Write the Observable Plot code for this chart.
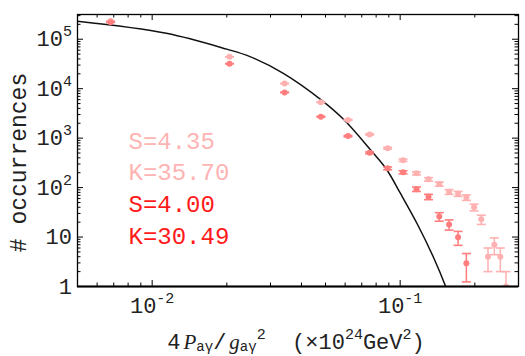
<!DOCTYPE html>
<html><head><meta charset="utf-8">
<script src="https://cdn.jsdelivr.net/npm/d3@7"></script>
<script src="https://cdn.jsdelivr.net/npm/@observablehq/plot@0.6"></script>
<style>body{margin:0;background:#fff}</style>
</head><body><div id="chart"></div>
<script>
// ---- data ----
const binX = [0.0068,0.0205,0.0342,0.0479,0.0616,0.0753,0.0890,0.1027,0.1164,0.1301,0.1438,0.1575,0.1712,0.1849,0.1986,0.2123,0.2260,0.2397,0.2534,0.2671];
const countsS435 = [2.35e5,4.4e4,1.27e4,5.3e3,2.34e3,1190,625,358,194,147,118,82,75,63,40,22.8,4.0,7.0,4.0,1.0];
const errS435    = [485,210,113,73,48,34,25,19,14,12,11,9,8.7,8,6.3,4.8,2,2.6,2,1];
const countsS400 = [2.2e5,3.2e4,8.4e3,2.72e3,1.1e3,505,245,204,93,65,26,18,9.9,2.94];
const errS400    = [470,179,92,52,33,22,16,14,9.6,8,5.1,4.2,3.1,1.7];
const curveX = [0.005,0.0114,0.0200,0.0248,0.0338,0.0483,0.0591,0.0757,0.0883,0.1000,0.1168,0.1362,0.1535,0.1600];
const curveY = [2.31e5,1.32e5,6.3e4,4.45e4,2.04e4,5.8e3,2.4e3,590,230,78,19,3.9,0.92,0.5];
const annoLight = ["S=4.35","K=35.70"];
const annoRed = ["S=4.00","K=30.49"];
const xMajor = [0.01,0.1];
const xMajorLabels = ["10^{-2}","10^{-1}"];
const xMinor = [0.006,0.007,0.008,0.009,0.02,0.03,0.04,0.05,0.06,0.07,0.08,0.09,0.2];
const yMajor = [1,10,100,1e3,1e4,1e5];
const yMajorLabels = ["1","10","10^{2}","10^{3}","10^{4}","10^{5}"];
const yMinor = [];
for (const p of [1,10,100,1e3,1e4,1e5]) for (const m of [2,3,4,5,6,7,8,9]) if (m*p < 3.16e5) yMinor.push(m*p);
const xLabel = "4*{P}_{aγ}/*{g}_{aγ}^{2}  (×10^{24}GeV^{2})";
const yLabel = "# occurrences";

// ---- build ----
const light = "#ffb0b0", red = "#ff7d7d";
const lightText = "#ffb4b4", redText = "#ff1a1a";
const mono = "Liberation Mono";
const ML = 77, MR = 7, MT = 14, MB = 70, W = 525, H = 356;
const FW = W - ML - MR, FH = H - MT - MB;

const tbl = (xs, ys, es) => ys.map((y, i) => ({x: xs[i], y, lo: Math.max(y - es[i], 0.1), hi: y + es[i]}));
const s435 = tbl(binX, countsS435, errS435);
const s400 = tbl(binX, countsS400, errS400);
const curve = curveX.map((x, i) => ({x, y: curveY[i]}));
const cap = {draw(ctx) { ctx.moveTo(-4.5, 0); ctx.lineTo(4.5, 0); }};

const seriesMarks = (data, color) => [
  Plot.ruleX(data, {x: "x", y1: "lo", y2: "hi", stroke: color, strokeWidth: 1.5, clip: true}),
  Plot.dot(data, {x: "x", y: "lo", symbol: cap, stroke: color, fill: "none", strokeWidth: 1.6, clip: true}),
  Plot.dot(data, {x: "x", y: "hi", symbol: cap, stroke: color, fill: "none", strokeWidth: 1.6, clip: true}),
  Plot.dot(data, {x: "x", y: "y", r: 3, fill: color, stroke: "none", clip: true})
];

const baselines = [148, 179.5, 211.5, 243];
const annos = [...annoLight.map(t => [t, lightText]), ...annoRed.map(t => [t, redText])];

const chart = Plot.plot({
  width: W, height: H,
  marginLeft: ML, marginRight: MR, marginTop: MT, marginBottom: MB,
  style: {fontFamily: mono, background: "white"},
  x: {type: "log", domain: [0.005, 0.3], axis: null},
  y: {type: "log", domain: [1, 316228], axis: null},
  marks: [
    Plot.line(curve, {x: "x", y: "y", stroke: "#111", strokeWidth: 1.5, curve: "catmull-rom", clip: true}),
    ...seriesMarks(s435, light),
    ...seriesMarks(s400, red),
    // ticks
    Plot.tickX(xMajor, {x: d => d, insetTop: FH - 6, stroke: "black", strokeWidth: 1}),
    Plot.tickX(xMinor, {x: d => d, insetTop: FH - 3.5, stroke: "black", strokeWidth: 1}),
    Plot.tickX(xMajor, {x: d => d, insetBottom: FH - 6, stroke: "black", strokeWidth: 1}),
    Plot.tickX(xMinor, {x: d => d, insetBottom: FH - 3.5, stroke: "black", strokeWidth: 1}),
    Plot.tickY(yMajor, {y: d => d, insetRight: FW - 6, stroke: "black", strokeWidth: 1}),
    Plot.tickY(yMinor, {y: d => d, insetRight: FW - 3.5, stroke: "black", strokeWidth: 1}),
    Plot.tickY(yMajor, {y: d => d, insetLeft: FW - 6, stroke: "black", strokeWidth: 1}),
    Plot.tickY(yMinor, {y: d => d, insetLeft: FW - 3.5, stroke: "black", strokeWidth: 1}),
    Plot.frame({stroke: "black", strokeWidth: 1.3}),
    Plot.ruleY([1], {stroke: "black", strokeWidth: 2.2}),
    // tick labels
    Plot.text(xMajor, {x: d => d, text: (d, i) => xMajorLabels[i], frameAnchor: "bottom", dy: 26, lineAnchor: "bottom", textAnchor: "middle", fontSize: 22, fill: "#222"}),
    Plot.text(yMajor, {y: d => d, text: (d, i) => yMajorLabels[i], frameAnchor: "left", dx: -5.5, textAnchor: "end", lineAnchor: "middle", fontSize: 22, fill: "#222"}),
    // axis labels
    Plot.text([xLabel], {frameAnchor: "bottom", dy: 62, dx: -2, lineAnchor: "bottom", textAnchor: "middle", fontSize: 22, fill: "#222"}),
    Plot.text([yLabel], {frameAnchor: "left", dx: -52, dy: 12, rotate: -90, lineAnchor: "bottom", textAnchor: "middle", fontSize: 23, fill: "#222"}),
    // annotations
    ...annos.map(([t, c], i) => Plot.text([t], {frameAnchor: "top-left", dx: 51, dy: baselines[i] - MT, lineAnchor: "bottom", textAnchor: "start", fontSize: 24, fill: c}))
  ]
});

// rich text: ^{sup}, _{sub}, *{italic serif}
const NS = "http://www.w3.org/2000/svg";
d3.select(chart).selectAll("text").each(function() {
  const el = this, s = el.textContent;
  if (!/[\^_*]\{/.test(s)) return;
  el.textContent = "";
  el.style.whiteSpace = "pre";
  const re = /([\^_*])\{([^}]*)\}|([^\^_*]+)/g;
  let m, cur = 0;
  while ((m = re.exec(s))) {
    const t = document.createElementNS(NS, "tspan");
    let target = 0;
    if (m[1] === "^") { target = -10; t.setAttribute("font-size", 15); t.textContent = m[2]; }
    else if (m[1] === "_") { target = 2.5; t.setAttribute("font-size", 14); t.textContent = m[2]; }
    else if (m[1] === "*") { t.setAttribute("font-family", "Liberation Serif"); t.setAttribute("font-style", "italic"); t.setAttribute("font-size", 21); t.setAttribute("dx", 3); t.textContent = m[2]; }
    else { t.textContent = m[3]; }
    if (target !== cur) { t.setAttribute("dy", target - cur); cur = target; }
    el.appendChild(t);
  }
});

document.getElementById("chart").append(chart);
</script>
</body></html>
